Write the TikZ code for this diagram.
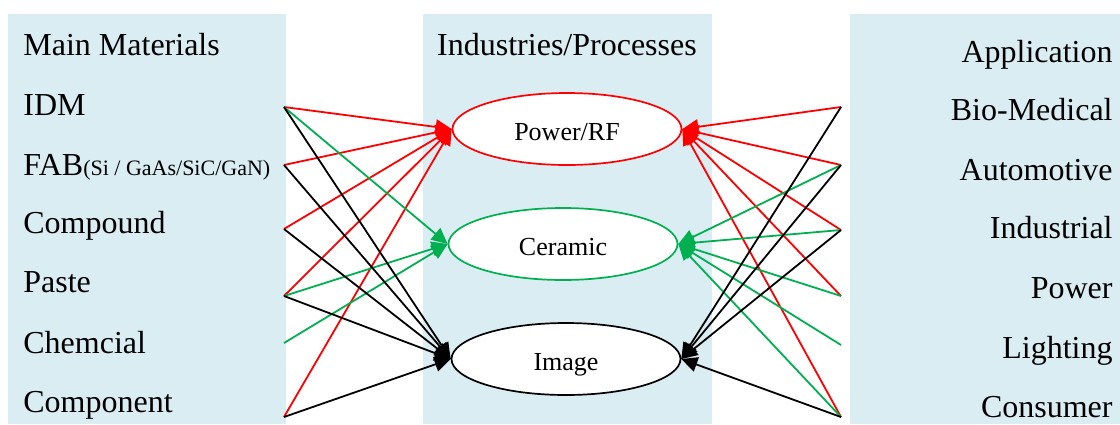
\documentclass[tikz,border=0pt]{standalone}
\usepackage{fontspec}
\setmainfont{Liberation Serif}
\usetikzlibrary{shapes.geometric}
\usetikzlibrary{arrows.meta}

\definecolor{panelblue}{HTML}{DAEDF3}
\definecolor{okgreen}{HTML}{00B050}

\begin{document}
\begin{tikzpicture}[x=0.5pt, y=-0.5pt,
    txt/.style={inner sep=0pt, font=\fontsize{16}{19}\selectfont},
    proc/.style={ellipse, draw, fill=white, line width=0.85pt, minimum width=114.5pt, minimum height=36pt, inner sep=0pt, text height=11.5pt, text depth=0pt, font=\fontsize{13}{15}\selectfont},
    feed/.style={line width=0.9pt, -{Triangle[length=8pt, width=7.5pt]}}]
        \useasboundingbox (0,0) rectangle (1120,424);

        % Background columns
        \fill[panelblue] (8,14) rectangle (286,424);
        \fill[panelblue] (423,14) rectangle (712,424);
        \fill[panelblue] (850,14) rectangle (1120,424);

        % Left column: materials
        \node[txt, anchor=base west] (mathead) at (23,55) {Main Materials};
        \node[txt, anchor=base west] (idmtxt) at (23,115) {IDM};
        \node[txt, anchor=base west] (fabtxt) at (23,175) {FAB{\fontsize{11}{13}\selectfont(Si / GaAs/SiC/GaN)}};
        \node[txt, anchor=base west] (cpdtxt) at (23,233) {Compound};
        \node[txt, anchor=base west] (pastetxt) at (23,292) {Paste};
        \node[txt, anchor=base west] (chemtxt) at (23,353) {Chemcial};
        \node[txt, anchor=base west] (cpttxt) at (23,412) {Component};

        % Middle column: processes
        \node[txt, anchor=base] (prochead) at (567,55) {Industries/Processes};
        \node[proc, draw=red] (rf) at (567,129) {Power/RF};
        \node[proc, draw=okgreen] (cer) at (563,244) {Ceramic};
        \node[proc, draw=black] (img) at (566,359) {Image};

        % Right column: applications
        \node[txt, anchor=base east] (apphead) at (1113,62) {Application};
        \node[txt, anchor=base east] (biotxt) at (1113,120) {Bio-Medical};
        \node[txt, anchor=base east] (autotxt) at (1113,180) {Automotive};
        \node[txt, anchor=base east] (indtxt) at (1113,238) {Industrial};
        \node[txt, anchor=base east] (powtxt) at (1113,298) {Power};
        \node[txt, anchor=base east] (lighttxt) at (1113,358) {Lighting};
        \node[txt, anchor=base east] (constxt) at (1113,417) {Consumer};

        % Start points of the links on both sides
        \foreach \name/\y in {idm/107, fab/165, cpd/229, paste/296, chem/343, cpt/417}
          \coordinate (\name) at (284,\y);
        \foreach \name/\y in {bio/107, auto/165, ind/230, pow/296, light/345, cons/417}
          \coordinate (\name) at (841,\y);

        % Links from materials
        \foreach \s in {idm,fab,cpd,paste,cpt}
          \draw[feed, red] (\s) -- (rf.west);
        \foreach \s in {idm,paste,chem}
          \draw[feed, okgreen] (\s) -- (cer.west);
        \foreach \s in {idm,fab,cpd,paste,cpt}
          \draw[feed] (\s) -- (img.west);

        % Links from applications
        \foreach \s in {bio,auto,ind,pow,cons}
          \draw[feed, red] (\s) -- (rf.east);
        \foreach \s in {auto,ind,pow,light,cons}
          \draw[feed, okgreen] (\s) -- (cer.east);
        \foreach \s in {bio,auto,ind,cons}
          \draw[feed] (\s) -- (img.east);
\end{tikzpicture}
\end{document}
